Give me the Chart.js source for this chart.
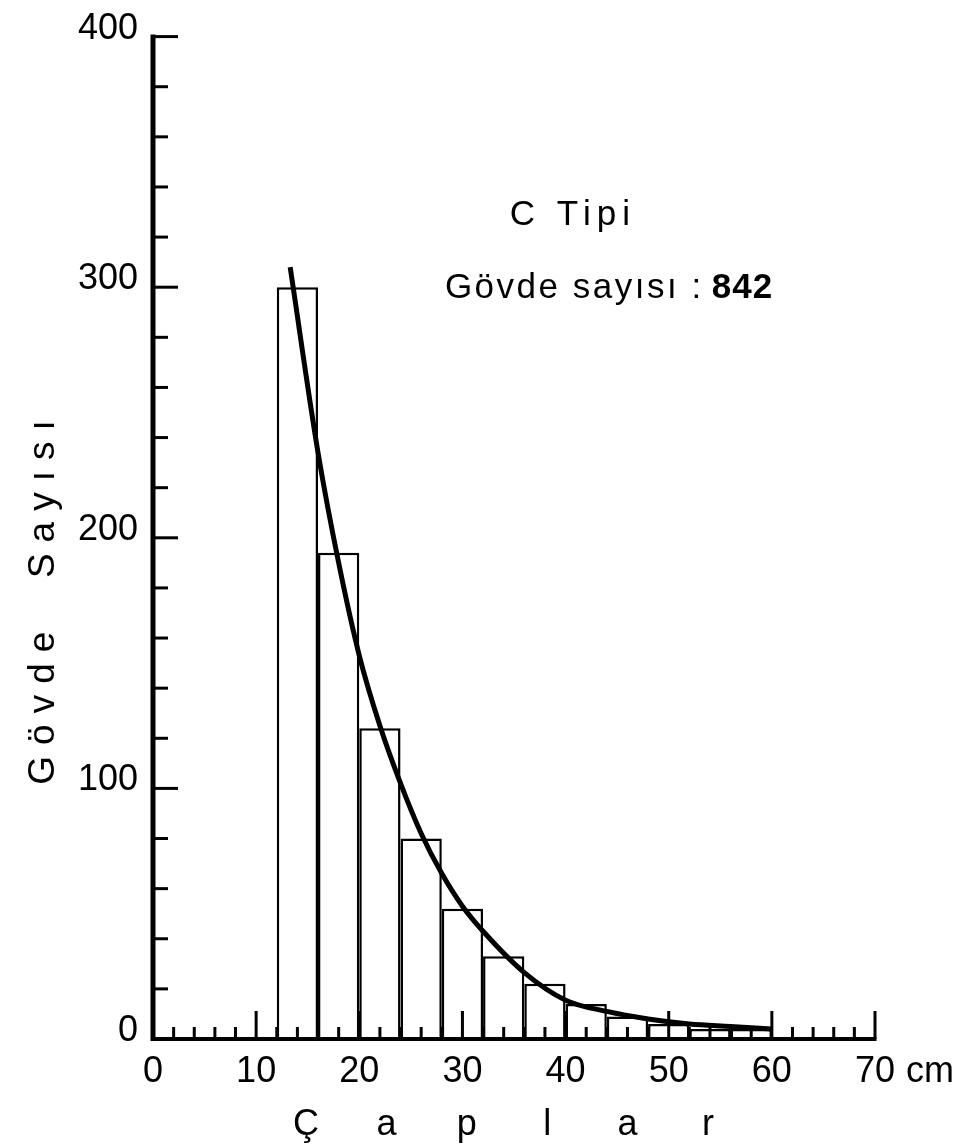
<!DOCTYPE html>
<html>
<head>
<meta charset="utf-8">
<script src="https://cdn.jsdelivr.net/npm/chart.js@4/dist/chart.umd.min.js"></script>
<style>
  html, body { margin: 0; padding: 0; background: #fff; }
  canvas { display: block; }
</style>
</head>
<body>
<canvas id="main-chart" width="975" height="1145"></canvas>
<script>
// diameter classes (cm), 4 cm wide
const binStarts = [12, 16, 20, 24, 28, 32, 36, 40, 44, 48, 52, 56];
const binWidth = 4;
const stemCounts = [300, 194, 124, 80, 52, 33, 22, 14, 9, 6, 4, 4];

// fitted curve
const curveX = [13.3, 16, 18, 20, 22, 24, 26, 28, 30, 32, 36, 40, 44, 48, 52, 56, 60];
const curveY = [308, 234, 190, 153, 125, 102, 82, 66, 53, 43, 26.5, 15.5, 11, 8, 6, 5, 4];

const xLabels = [0, 10, 20, 30, 40, 50, 60, 70];
const yLabels = [0, 100, 200, 300, 400];

const xTitle = 'Çaplar';
const yTitle = 'Gövde  Sayısı';
const typeText = 'C Tipi';
const countText = 'Gövde sayısı : ';
const countValue = '842';

const FONT = "'Liberation Sans', Arial, sans-serif";
const X_STEP = 2; // minor tick spacing on x, cm

const handDrawn = {
    id: 'handDrawn',
    afterDatasetsDraw(chart) {
        const { ctx, scales: { x, y } } = chart;
        const x0 = x.getPixelForValue(0);
        const y0 = y.getPixelForValue(0);
        const yTop = y.getPixelForValue(400);
        const xEnd = x.getPixelForValue(70);
        ctx.save();
        ctx.strokeStyle = '#000';
        ctx.lineCap = 'butt';

        // axis lines
        ctx.lineWidth = 5;
        ctx.beginPath();
        ctx.moveTo(x0, y0 + 2);
        ctx.lineTo(x0, yTop - 2);
        ctx.stroke();
        ctx.lineWidth = 4;
        ctx.beginPath();
        ctx.moveTo(x0 - 2, y0);
        ctx.lineTo(xEnd + 1.5, y0);
        ctx.stroke();

        // tick marks drawn inwards
        ctx.lineWidth = 3;
        y.ticks.forEach(t => {
            if (t.value === 0) return;
            const py = y.getPixelForValue(t.value);
            const len = t.value % 100 === 0 ? 25 : 15;
            ctx.beginPath();
            ctx.moveTo(x0, py);
            ctx.lineTo(x0 + len, py);
            ctx.stroke();
        });
        x.ticks.forEach(t => {
            if (t.value === 0) return;
            const px = x.getPixelForValue(t.value);
            const len = t.value % 10 === 0 ? 28 : 12;
            ctx.beginPath();
            ctx.moveTo(px, y0);
            ctx.lineTo(px, y0 - len);
            ctx.stroke();
        });
        ctx.restore();
    },
    afterDraw(chart) {
        const { ctx, chartArea, scales: { x, y } } = chart;
        ctx.save();
        ctx.fillStyle = '#000';

        // unit after the last x label
        ctx.font = `36px ${FONT}`;
        ctx.textAlign = 'left';
        ctx.textBaseline = 'alphabetic';
        ctx.fillText('cm', x.getPixelForValue(70) + 31, 1082);

        // y title, letter spaced, reading upwards
        ctx.save();
        ctx.translate(44, 603);
        ctx.rotate(-Math.PI / 2);
        ctx.font = `37px ${FONT}`;
        ctx.letterSpacing = '11px';
        ctx.textAlign = 'center';
        ctx.textBaseline = 'middle';
        ctx.fillText(yTitle, 6, 0);
        ctx.restore();

        // x title, one letter every 80 px
        ctx.font = `36px ${FONT}`;
        ctx.textAlign = 'center';
        ctx.textBaseline = 'alphabetic';
        const chars = Array.from(xTitle);
        const pitch = 80.4;
        const mid = (chartArea.left + chartArea.right) / 2 - 7;
        chars.forEach((c, i) => {
            ctx.fillText(c, mid + (i - (chars.length - 1) / 2) * pitch, 1135);
        });

        // annotation
        ctx.textAlign = 'left';
        ctx.font = `35px ${FONT}`;
        ctx.letterSpacing = '6px';
        ctx.fillText(typeText, x.getPixelForValue(34.6), y.getPixelForValue(325));
        ctx.letterSpacing = '2.5px';
        const bx = x.getPixelForValue(28.3);
        const by = y.getPixelForValue(295.5);
        ctx.fillText(countText, bx, by);
        const w = ctx.measureText(countText).width;
        ctx.font = `bold 35px ${FONT}`;
        ctx.letterSpacing = '1px';
        ctx.fillText(countValue, bx + w - 4, by);
        ctx.restore();
    }
};

const bars = binStarts.map((s, i) => ({ x: s + binWidth / 2, y: stemCounts[i] }));
const curve = curveX.map((v, i) => ({ x: v, y: curveY[i] }));

new Chart(document.getElementById('main-chart'), {
    type: 'bar',
    data: {
        datasets: [{
            type: 'line',
            data: curve,
            borderColor: '#000',
            borderWidth: 5,
            pointRadius: 0,
            cubicInterpolationMode: 'monotone',
            fill: false,
            order: 0
        }, {
            type: 'bar',
            data: bars,
            backgroundColor: '#fff',
            borderColor: '#000',
            borderWidth: 2.5,
            borderSkipped: 'bottom',
            // the bar ruler takes the tick spacing (2 cm) as its unit
            barPercentage: binWidth / X_STEP,
            categoryPercentage: 1,
            order: 1
        }]
    },
    options: {
        responsive: false,
        animation: false,
        devicePixelRatio: 1,
        layout: {
            padding: { top: 30, right: 100, left: 0, bottom: 0 }
        },
        plugins: {
            legend: { display: false },
            tooltip: { enabled: false }
        },
        scales: {
            x: {
                type: 'linear',
                min: 0,
                max: 70,
                offset: false,
                border: { display: false },
                grid: { display: false, drawTicks: false },
                ticks: {
                    stepSize: X_STEP,
                    autoSkip: false,
                    maxRotation: 0,
                    padding: 11,
                    color: '#000',
                    font: { family: FONT, size: 36 },
                    callback: v => xLabels.includes(v) ? String(v) : ''
                },
                afterFit: s => { s.height = 106; }
            },
            y: {
                type: 'linear',
                min: 0,
                max: 400,
                border: { display: false },
                grid: { display: false, drawTicks: false },
                ticks: {
                    stepSize: 20,
                    padding: 15,
                    labelOffset: -8,
                    color: '#000',
                    font: { family: FONT, size: 36 },
                    callback: v => yLabels.includes(v) ? String(v) : ''
                },
                afterFit: s => { s.width = 153; }
            }
        }
    },
    plugins: [handDrawn]
});
</script>
</body>
</html>
